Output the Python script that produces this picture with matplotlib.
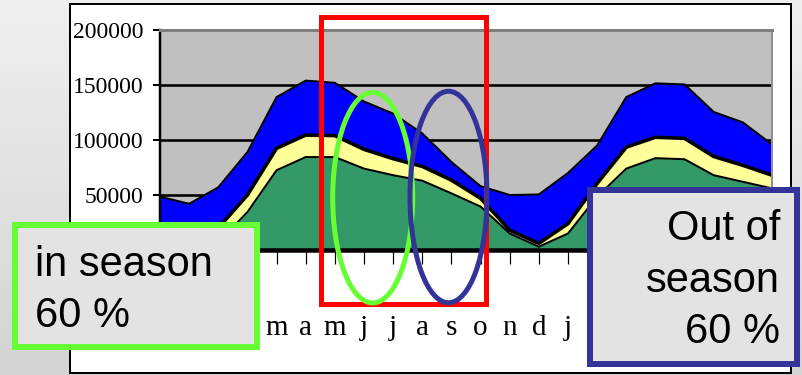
import numpy as np
import matplotlib
matplotlib.use("Agg")
import matplotlib.pyplot as plt
from matplotlib.patches import Rectangle, Ellipse

# ---- data ----
months = ["n", "d", "j", "f", "m", "a", "m", "j", "j", "a", "s", "o",
          "n", "d", "j", "f", "m", "a", "m", "j", "j", "a"]
green_series = [14000, 3000, 7000, 34500, 72500, 84500, 84500, 74000, 68000, 63000, 51500,
                39500, 15000, 3000, 15000, 48500, 74000, 83500, 82500, 68000, 62000, 56000]
yellow_series = [4000, 3000, 13000, 15500, 20000, 20000, 19500, 17500, 15000, 13000, 12000,
                 7500, 3000, 3000, 9000, 12000, 19500, 19000, 19000, 17000, 15000, 12000]
blue_series = [30500, 36000, 37000, 39000, 46500, 49500, 48000, 43500, 41000, 30000, 16500,
               11000, 32000, 44500, 46000, 34500, 45500, 49000, 49000, 40500, 39000, 28000]
y_ticks = [0, 50000, 100000, 150000, 200000]
y_labels = ["0", "50000", "100000", "150000", "200000"]

W, H = 802, 375
PX = 0.72  # points per pixel at dpi 100

fig = plt.figure(figsize=(W / 100, H / 100), dpi=100)

# background gradient + white chart box
bg = fig.add_axes([0, 0, 1, 1], zorder=-2)
bg.set_xlim(0, W)
bg.set_ylim(H, 0)
bg.axis("off")
grad = np.linspace(0.94, 0.83, 256).reshape(-1, 1)
bg.imshow(np.dstack([grad, grad, grad]), extent=[0, W, H, 0], aspect="auto", zorder=0)
bg.add_patch(Rectangle((70, 4), 721, 369, facecolor="white", edgecolor="black",
                       linewidth=2 * PX, zorder=1))

# main chart
ax = fig.add_axes([160 / W, 125 / H, 612 / W, 220 / H], zorder=1)
ax.set_facecolor("#C0C0C0")
x = np.arange(len(months))
g = np.array(green_series, dtype=float)
yv = np.array(yellow_series, dtype=float)
b = np.array(blue_series, dtype=float)
t1 = g
t2 = g + yv
t3 = g + yv + b
ax.fill_between(x, 0, t1, color="#339966", linewidth=0, zorder=1)
ax.fill_between(x, t1, t2, color="#FFFF99", linewidth=0, zorder=1)
ax.fill_between(x, t2, t3, color="#0000FF", linewidth=0, zorder=1)
ax.plot(x, t1, color="black", linewidth=2 * PX, zorder=2)
ax.plot(x, t2, color="black", linewidth=3.6 * PX, zorder=2)
ax.plot(x, t3, color="black", linewidth=2 * PX, zorder=2)

ax.set_xlim(0, len(months) - 1)
ax.set_ylim(0, 200000)
ax.set_yticks(y_ticks)
ax.set_yticklabels(y_labels, family="Liberation Serif", fontsize=17)
ax.set_xticks(x)
ax.set_xticklabels(months, family="Liberation Serif", fontsize=21)
ax.tick_params(axis="y", direction="out", length=5, width=2 * PX, pad=7, colors="black")
ax.tick_params(axis="x", direction="out", length=10, width=1.2 * PX, pad=37, colors="black")
ax.set_axisbelow(True)
ax.yaxis.grid(True, color="black", linewidth=2.6 * PX)
ax.spines["left"].set_linewidth(2.5 * PX)
ax.spines["left"].set_color("black")
ax.spines["bottom"].set_linewidth(4.5 * PX)
ax.spines["bottom"].set_color("black")
ax.spines["top"].set_linewidth(3 * PX)
ax.spines["top"].set_color("#808080")
ax.spines["right"].set_linewidth(2 * PX)
ax.spines["right"].set_color("#909090")

# overlay annotations
ov = fig.add_axes([0, 0, 1, 1], zorder=5)
ov.set_xlim(0, W)
ov.set_ylim(H, 0)
ov.axis("off")
ov.add_patch(Rectangle((320.5, 16.5), 165, 287, fill=False, edgecolor="#FF0000",
                       linewidth=5 * PX, zorder=1))
ov.add_patch(Ellipse((372.7, 197.7), 80, 210.5, fill=False, edgecolor="#66FF33",
                     linewidth=5 * PX, zorder=2))
ov.add_patch(Ellipse((448.5, 197), 77, 211.5, fill=False, edgecolor="#333399",
                     linewidth=5 * PX, zorder=3))
ov.add_patch(Rectangle((14.7, 224.7), 242.3, 122.3, facecolor="#E3E3E3",
                       edgecolor="#66FF33", linewidth=6 * PX, zorder=4))
ov.add_patch(Rectangle((589.7, 190.3), 207.3, 173.4, facecolor="#E3E3E3",
                       edgecolor="#333399", linewidth=6 * PX, zorder=4))
tkw = dict(family="Liberation Sans", fontsize=30, color="black", va="baseline", zorder=6)
ov.text(35, 276, "in season", ha="left", **tkw)
ov.text(35, 327, "60 %", ha="left", **tkw)
ov.text(780, 240, "Out of", ha="right", **tkw)
ov.text(780, 291.7, "season", ha="right", **tkw)
ov.text(780, 343.3, "60 %", ha="right", **tkw)

fig.savefig("out.png", dpi=100)
